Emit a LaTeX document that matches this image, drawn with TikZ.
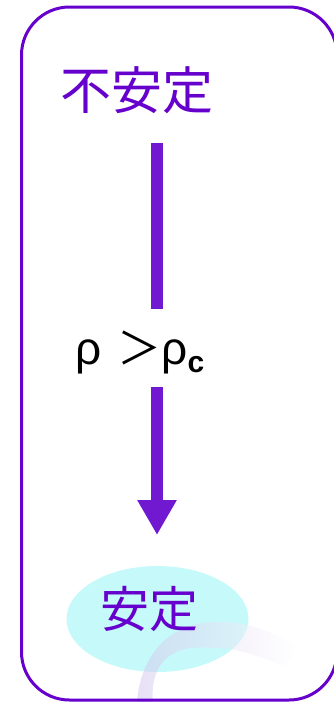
\documentclass[tikz,border=0pt]{standalone}
\usepackage{fontspec}
\setmainfont{Liberation Sans}
\newfontfamily\cjk{Noto Sans CJK JP}
\usetikzlibrary{arrows.meta,shapes.geometric}
\definecolor{purp}{RGB}{102,0,204}
\definecolor{arrowpurp}{RGB}{113,25,208}
\definecolor{palecyan}{RGB}{198,250,250}
\definecolor{lav}{RGB}{210,196,238}
\tikzset{
  frame/.style={draw=purp, line width=3pt, rounded corners=48pt},
  cjklabel/.style={text=purp, inner sep=0pt},
  shaft/.style={draw=arrowpurp, line width=12pt},
}
\begin{document}
\begin{tikzpicture}[x=1pt,y=-1pt]
\useasboundingbox (0,0) rectangle (333,702);
% stable ellipse
\node[ellipse, fill=palecyan, minimum width=182pt, minimum height=106pt, inner sep=0pt] (stablebg) at (157.5,619) {};
% swoosh
\path[left color=lav, right color=white, fill opacity=0.5]
  (137,702) .. controls (140,660) and (165,625) .. (210,622)
  .. controls (245,620) and (275,632) .. (297,647)
  -- (285,668)
  .. controls (260,655) and (230,645) .. (190,648)
  .. controls (165,652) and (150,670) .. (153,702) -- cycle;
% frame
\draw[frame] (21.5,7) rectangle (337,700);
% labels
\node[cjklabel, font=\cjk\fontsize{51}{51}\selectfont] (unstable) at (136.5,90) {不安定};
\node[cjklabel, font=\cjk\fontsize{49}{49}\selectfont] (stable) at (149,609) {安定};
\node[inner sep=0pt, anchor=base west] (cond) at (75,364)
  {\fontsize{46}{46}\selectfont ρ\hspace{16pt}{\cjk\fontsize{44}{44}\selectfont ＞}ρ\raisebox{-8pt}{\bfseries\fontsize{30}{30}\selectfont c}};
% arrow
\coordinate (s1) at (157,143);
\coordinate (e1) at (157,309);
\coordinate (s2) at (157,387);
\coordinate (e2) at (157,535);
\draw[shaft] (s1) -- (e1);
\draw[shaft, -{Triangle[length=35pt,width=37pt]}] (s2) -- (e2);
\end{tikzpicture}
\end{document}
